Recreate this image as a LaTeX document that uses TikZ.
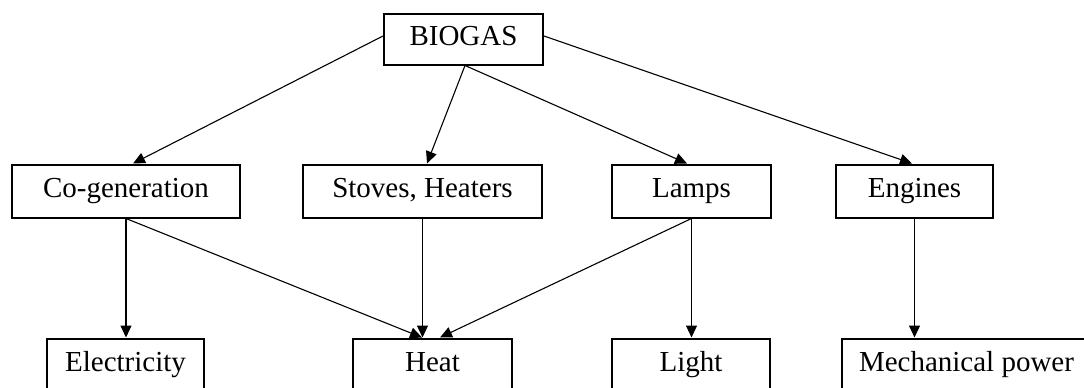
\documentclass[tikz,border=0pt]{standalone}
\usepackage{fontspec}
\setmainfont{Liberation Serif}
\usetikzlibrary{arrows.meta}
\begin{document}
\begin{tikzpicture}[x=1pt,y=-1pt,
  box/.style={draw=black, line width=2pt, fill=white, rectangle, inner sep=0pt,
    minimum height=53pt, text height=19pt, text depth=6.5pt,
    font=\fontsize{29}{34}\selectfont},
  arr/.style={draw=black, line width=1.1pt, -{Triangle[length=12pt,width=11pt]}}]
\useasboundingbox (0,0) rectangle (1084,388);
\node[box, minimum width=159pt, minimum height=51pt] (biogas) at (463.5,39) {BIOGAS};
\node[box, minimum width=228pt] (cogen) at (126,191) {Co-generation};
\node[box, minimum width=239pt] (stoves) at (422.5,191) {Stoves, Heaters};
\node[box, minimum width=159pt] (lamps) at (691.5,191) {Lamps};
\node[box, minimum width=157pt] (engines) at (914.5,191) {Engines};
\node[box, minimum width=157pt] (elec) at (125.5,365) {Electricity};
\node[box, minimum width=159pt] (heat) at (432.5,365) {Heat};
\node[box, minimum width=158pt] (light) at (691,365) {Light};
\node[box, minimum width=249pt] (mech) at (966.5,365) {Mechanical power};
\draw[arr] ([yshift=3pt]biogas.west) -- ([xshift=7pt]cogen.north);
\draw[arr] ([xshift=1.5pt]biogas.south) -- ([xshift=4.5pt]stoves.north);
\draw[arr] ([xshift=1.5pt]biogas.south) -- ([xshift=-4.5pt]lamps.north);
\draw[arr] ([yshift=3pt]biogas.east) -- ([xshift=-2.5pt]engines.north);
\draw[arr] (cogen.south) -- (cogen.south |- elec.north);
\draw[arr] (cogen.south) -- ([xshift=-10.5pt]heat.north);
\draw[arr] (stoves.south) -- ([xshift=-10pt]heat.north);
\draw[arr] (lamps.south) -- ([xshift=7.5pt]heat.north);
\draw[arr] (lamps.south) -- (lamps.south |- light.north);
\draw[arr] (engines.south) -- (engines.south |- mech.north);
\end{tikzpicture}
\end{document}
